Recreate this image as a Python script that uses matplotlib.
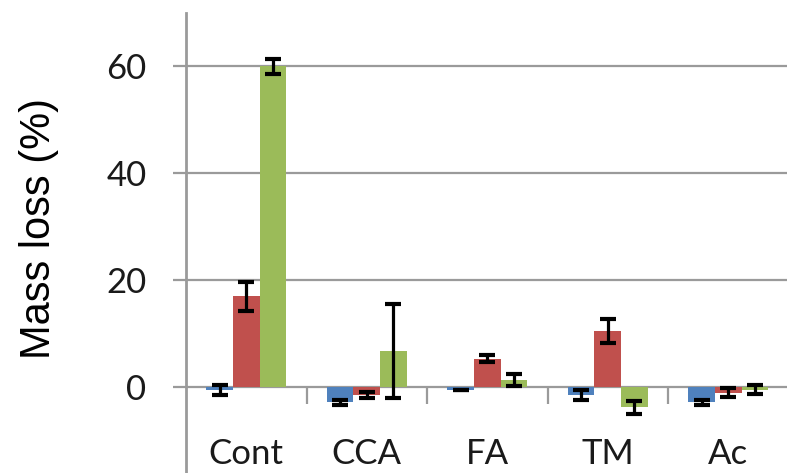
import numpy as np
import matplotlib
matplotlib.use("Agg")
import matplotlib.pyplot as plt

# data
categories = ["Cont", "CCA", "FA", "TM", "Ac"]
blue_vals = [-0.6, -2.9, -0.6, -1.5, -2.9]
blue_err = [0.9, 0.5, 0.0, 0.9, 0.5]
red_vals = [17.0, -1.5, 5.3, 10.5, -1.1]
red_err = [2.7, 0.6, 0.6, 2.2, 0.8]
green_vals = [60.0, 6.7, 1.3, -3.8, -0.5]
green_err = [1.4, 8.8, 1.1, 1.2, 0.8]
yticks = [0, 20, 40, 60]

series = [
    (blue_vals, blue_err, "#4F81BD"),
    (red_vals, red_err, "#C0504D"),
    (green_vals, green_err, "#9BBB59"),
]

grid_col = "#9a9a9a"
tick_font = "Lato"

fig = plt.figure(figsize=(7.87, 4.73), dpi=100)
ax = fig.add_axes([186 / 787, -0.0438, 602.5 / 787, 1.0163])

x = np.arange(len(categories))
width = 0.22
for i, (vals, errs, col) in enumerate(series):
    ax.bar(x + (i - 1) * width, vals, width, color=col, zorder=2)
    ax.errorbar(x + (i - 1) * width, vals, yerr=errs, fmt="none", ecolor="black",
                elinewidth=2.3, capsize=6, capthick=3, zorder=3)

ax.set_xlim(-0.5, len(categories) - 0.5)
ax.set_ylim(-20, 70)

# gridlines incl. zero line
ax.set_yticks(yticks)
ax.set_yticklabels([str(t) for t in yticks], fontsize=25, family=tick_font, color="#1a1a1a")
ax.yaxis.grid(True, color=grid_col, linewidth=1.6, zorder=1)
ax.tick_params(axis="y", length=9.5, width=1.6, color=grid_col, pad=19)
ax.set_xticks([])

# category separators below the zero line
ax.vlines(x[:-1] + 0.5, -3.2, 0, color=grid_col, linewidth=1.6, zorder=1)

for i, cat in enumerate(categories):
    ax.text(x[i], -14.4, cat, ha="center", va="baseline", fontsize=25,
            family=tick_font, color="#1a1a1a")

for side in ["top", "right", "bottom"]:
    ax.spines[side].set_visible(False)
ax.spines["left"].set_color(grid_col)
ax.spines["left"].set_linewidth(2)

fig.text(0.05, 0.517, "Mass loss (%)", rotation=90, ha="center", va="center",
         fontsize=30, family="Liberation Sans", color="black")

fig.savefig("out.png", dpi=100)
